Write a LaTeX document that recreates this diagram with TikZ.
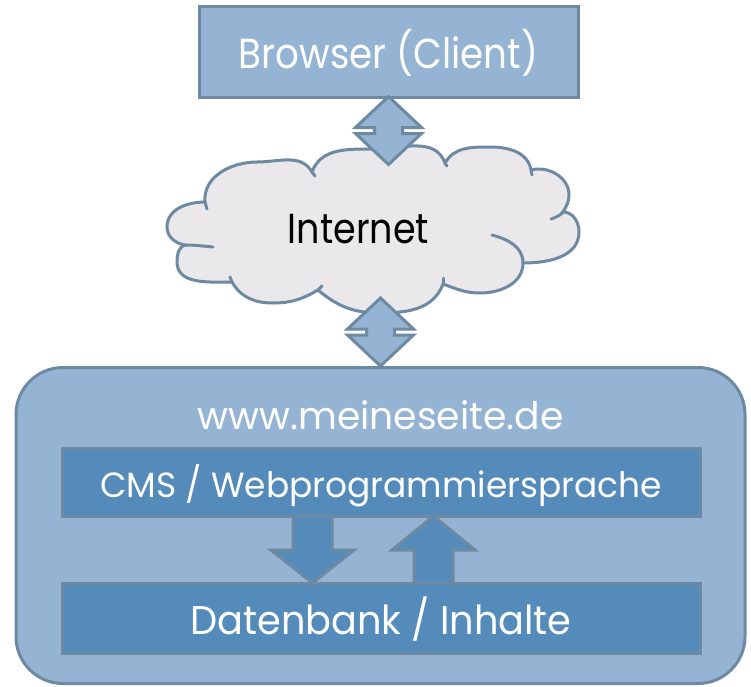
\documentclass[tikz,border=0pt]{standalone}
\usepackage{fontspec}
\newfontfamily\tw[FakeStretch=0.87]{Poppins}
\definecolor{lightb}{HTML}{95B3D3}
\definecolor{darkb}{HTML}{548BBA}
\definecolor{edgeg}{HTML}{6E8AA2}
\definecolor{cloudf}{HTML}{EAE8EA}
\tikzset{
  lightbox/.style={draw=edgeg, fill=lightb, line width=3pt, inner sep=0pt},
  darkbox/.style={draw=edgeg, fill=darkb, line width=3pt, inner sep=0pt, text=white},
  blockarrow/.style={draw=edgeg, fill=lightb, line width=3pt, line join=miter},
  innerarrow/.style={draw=edgeg, fill=darkb, line width=3pt, line join=miter},
  cloudline/.style={draw=edgeg, line width=3pt, line cap=round},
  lbl/.style={inner sep=0pt, anchor=base}
}
\begin{document}
\begin{tikzpicture}[x=1pt,y=1pt]
\useasboundingbox (0,0) rectangle (751,-686);
\fill[white] (0,0) rectangle (751,-686);

% outer site box
\node[lightbox, rounded corners=47pt, minimum width=729pt, minimum height=316pt] (site) at (380.5,-525.5) {};
\node[lbl, text=white, font=\tw\fontsize{38}{41}\selectfont] (sitelabel) at (380.5,-429) {\scalebox{1.14}[1]{www.meineseite.de}};

% inner arrows (drawn below the boxes)
\draw[innerarrow] ([xshift=-88pt]381,-516) -- ++(39,0) -- ++(0,-34) -- ++(22,0) -- ++(-41.5,-33) -- ++(-41.5,33) -- ++(22,0) -- cycle;
\draw[innerarrow] ([xshift=33pt]381,-583) -- ++(39,0) -- ++(0,33) -- ++(22,0) -- ++(-41.5,34) -- ++(-41.5,-34) -- ++(22,0) -- cycle;

% CMS and DB boxes
\node[darkbox, minimum width=638pt, minimum height=68pt, text height=30pt, text depth=0pt,
      font=\tw\fontsize{35}{38}\selectfont] (cms) at (381,-482) {\scalebox{1.13}[1]{CMS / Webprogrammiersprache}};
\node[darkbox, minimum width=638pt, minimum height=70pt, text height=33pt, text depth=0pt,
      font=\tw\fontsize{40}{44}\selectfont] (db) at (381,-618) {\scalebox{1.10}[1]{Datenbank / Inhalte}};

% browser box
\node[lightbox, text=white, minimum width=379pt, minimum height=91pt, text height=33pt, text depth=0pt,
      font=\tw\fontsize{42}{46}\selectfont] (browser) at (388.5,-51.5) {\scalebox{1.02}[1]{Browser (Client)}};

% cloud
\draw[cloudline, fill=cloudf]
  (205,-202) to[out=95,in=180] (257,-162) to[out=0,in=120] (312,-172)
  to[out=70,in=180] (373,-149) to[out=0,in=110] (445,-163)
  to[out=60,in=180] (490,-147) to[out=0,in=100] (531,-170)
  to[out=15,in=90] (569,-195) to[out=-90,in=60] (563,-212)
  to[out=0,in=90] (579,-232) to[out=-90,in=0] (523,-263)
  to[out=-90,in=0] (480,-293) to[out=180,in=-20] (443,-284)
  to[out=-110,in=0] (380,-313) to[out=180,in=-40] (318,-290)
  to[out=-150,in=0] (273,-303) to[out=180,in=-60] (232,-282)
  to[out=180,in=-90] (177,-262) to[out=90,in=-160] (185,-245)
  to[out=170,in=-90] (167,-227) to[out=90,in=180] (205,-202) -- cycle;
\draw[cloudline] (185,-245) to[out=0,in=175] (213,-247);
\draw[cloudline] (492,-235) to[out=-15,in=90] (523,-263);
\draw[cloudline] (563,-212) to[out=-130,in=20] (551,-219);
\draw[cloudline] (205,-202) to[out=-85,in=95] (207,-209);
\draw[cloudline] (312,-172) to[out=-50,in=130] (315,-176);
\draw[cloudline] (445,-163) to[out=-60,in=120] (447,-166);
\draw[cloudline] (531,-170) to[out=-80,in=100] (532,-175);
\draw[cloudline] (443,-284) to[out=80,in=-95] (443,-278);
\draw[cloudline] (318,-290) to[out=50,in=-130] (322,-286);
\draw[cloudline] (232,-282) to[out=70,in=-110] (230,-277);
\coordinate (cloudbot) at (380,-299);
\node[lbl, text=black, font=\tw\fontsize{42}{46}\selectfont] (internet) at (358.5,-243) {Internet};

% double arrows
\draw[blockarrow] ([yshift=2pt]browser.south) -- ++(33,-31) -- ++(-19,0) -- ++(0,-6) -- ++(19,0) -- ++(-33,-31) -- ++(-33,31) -- ++(19,0) -- ++(0,6) -- ++(-19,0) -- cycle;
\draw[blockarrow] ([yshift=68pt]site.north) -- ++(33,-31) -- ++(-19,0) -- ++(0,-6) -- ++(19,0) -- ++(-33,-31) -- ++(-33,31) -- ++(19,0) -- ++(0,6) -- ++(-19,0) -- cycle;
\end{tikzpicture}
\end{document}
